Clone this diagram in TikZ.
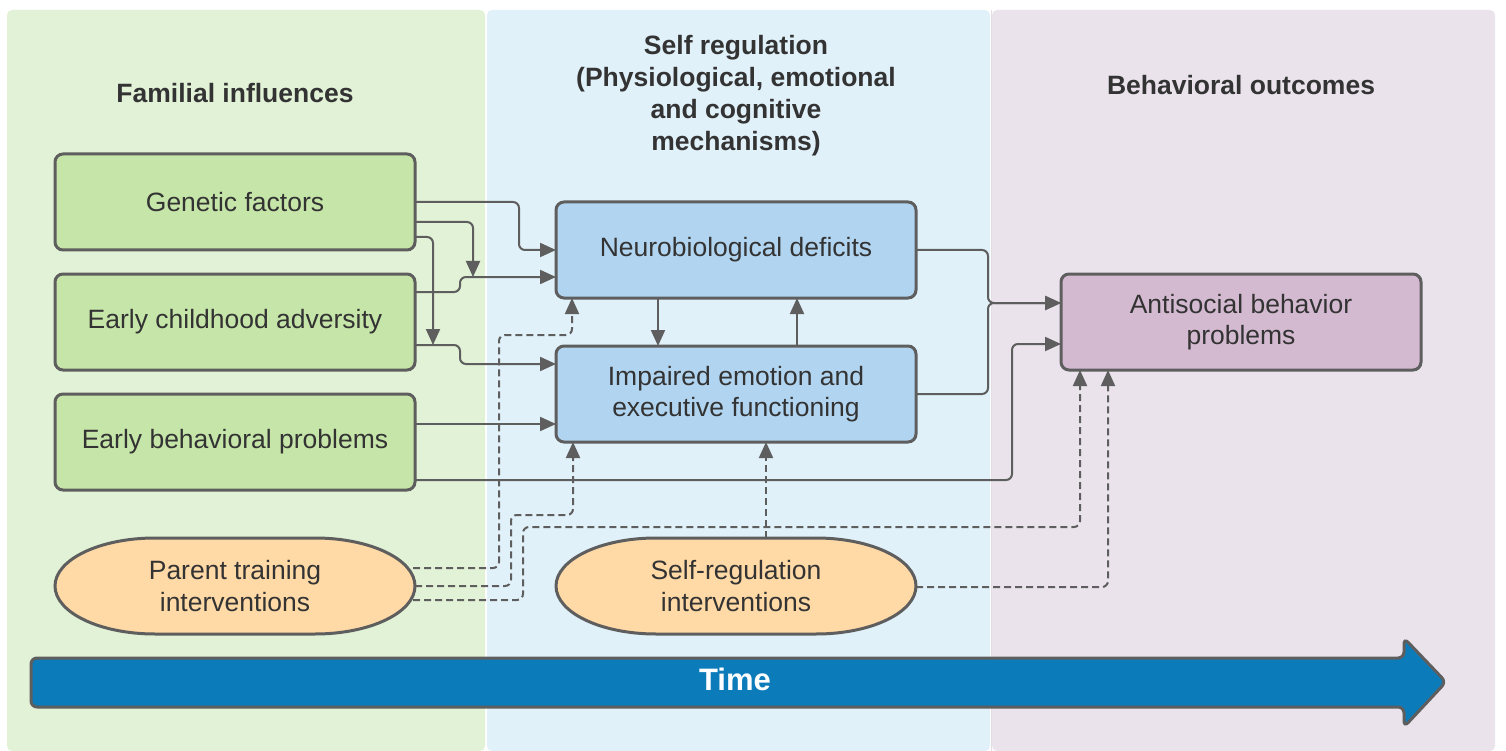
\documentclass[tikz,border=0pt]{standalone}
\usepackage{fontspec}
\setmainfont{Liberation Sans}
\usetikzlibrary{arrows.meta,calc}
\definecolor{pgreen}{HTML}{E2F2D7}
\definecolor{pblue}{HTML}{E1F1FA}
\definecolor{ppurple}{HTML}{EAE3EC}
\definecolor{bgreen}{HTML}{C6E6A9}
\definecolor{bblue}{HTML}{B1D5F0}
\definecolor{bpurple}{HTML}{D4BAD1}
\definecolor{borange}{HTML}{FFD9A6}
\definecolor{timeblue}{HTML}{0C7BBA}
\definecolor{stroke}{HTML}{5E5E5E}
\definecolor{txt}{HTML}{333333}
\begin{document}
\begin{tikzpicture}[x=1pt,y=1pt,
  txtfont/.style={font=\fontsize{26.5}{31.5}\selectfont, text=txt},
  boxnode/.style={txtfont, draw=stroke, line width=3pt, rounded corners=8pt,
    minimum width=360pt, minimum height=96pt, align=center, outer sep=0pt, inner sep=0pt},
  pillnode/.style={txtfont, minimum width=360pt, minimum height=96pt, align=center, outer sep=0pt, inner sep=0pt},
  pillshape/.style={draw=stroke, line width=3pt, fill=borange},
  title/.style={font=\fontsize{26.5}{32}\selectfont\bfseries, text=txt, align=center},
  conn/.style={draw=stroke, line width=2pt, rounded corners=6pt, -{Triangle[length=16pt,width=14pt]}},
  dconn/.style={conn, dash pattern=on 7pt off 4pt},
]
\useasboundingbox (0,0) rectangle (1506,-751);
% panels
\fill[pgreen, rounded corners=5pt] (7,-10) rectangle (485,-751);
\fill[pblue, rounded corners=5pt] (487,-10) rectangle (990,-751);
\fill[ppurple, rounded corners=5pt] (992,-10) rectangle (1495,-751);
\draw[color=ppurple!80!stroke!60, line width=1pt] (991,-10) -- (991,-751);
% titles
\node[title] (t1) at (235,-93) {Familial influences};
\node[title] (t2) at (736,-96) {Self regulation\\(Physiological, emotional\\and cognitive\\mechanisms)};
\node[title] (t3) at (1241,-85) {Behavioral outcomes};
% boxes
\node[boxnode, fill=bgreen] (gen) at (235,-202) {Genetic factors};
\node[boxnode, fill=bgreen] (eca) at (235,-322) {Early childhood adversity};
\node[boxnode, fill=bgreen] (ebp) at (235,-442) {Early behavioral problems};
\node[boxnode, fill=bblue] (neu) at (736,-250) {Neurobiological deficits};
\node[boxnode, fill=bblue] (imp) at (736,-394) {Impaired emotion and\\executive functioning};
\node[boxnode, fill=bpurple] (anti) at (1241,-322) {Antisocial behavior\\problems};
% pill shapes
\foreach \cx in {235,736}{
  \begin{scope}[shift={(\cx,-586)}]
  \draw[pillshape] (-180,0) arc[start angle=180,end angle=90,x radius=100pt,y radius=48pt]
    -- (80,48) arc[start angle=90,end angle=0,x radius=100pt,y radius=48pt]
    arc[start angle=0,end angle=-90,x radius=100pt,y radius=48pt]
    -- (-80,-48) arc[start angle=-90,end angle=-180,x radius=100pt,y radius=48pt] -- cycle;
  \end{scope}
}
\node[pillnode] (pt) at (235,-586) {Parent training\\interventions};
\node[pillnode] (sr) at (736,-586) {Self-regulation\\interventions};
% junction coordinates
\coordinate (j1) at (473,-277);
\coordinate (j2) at (433,-345);
% solid connectors
\draw[conn] (gen.east) -- (519,-202) |- (neu.west);
\draw[conn] ([yshift=-20pt]gen.east) -| (j1);
\draw[conn] ([yshift=-35pt]gen.east) -| (j2);
\draw[conn] ([yshift=30pt]eca.east) -- (460,-292) |- ([yshift=-27pt]neu.west);
\draw[conn] ([yshift=-23pt]eca.east) -- (460,-345) |- ([yshift=30pt]imp.west);
\draw[conn] ([yshift=18pt]ebp.east) -- ([yshift=-30pt]imp.west);
\draw[conn] ([yshift=-38pt]ebp.east) -- (1012,-480) |- ([yshift=-22pt]anti.west);
\draw[conn] (neu.east) -- (988,-250) |- ([yshift=19pt]anti.west);
\draw[conn] (imp.east) -- (988,-394) |- ([yshift=19pt]anti.west);
\draw[conn] ([xshift=-78pt]neu.south) -- ([xshift=-78pt]imp.north);
\draw[conn] ([xshift=61pt]imp.north) -- ([xshift=61pt]neu.south);
% dashed connectors
\draw[dconn] ([xshift=-2pt,yshift=18pt]pt.east) -| (499,-335) -| ([xshift=-164pt]neu.south);
\draw[dconn] (pt.east) -| (511,-515) -| ([xshift=-163pt]imp.south);
\draw[dconn] ([xshift=-2pt,yshift=-14pt]pt.east) -| (523,-527) -| ([xshift=-161pt]anti.south);
\draw[dconn] ([xshift=30pt]sr.north) -- ([xshift=30pt]imp.south);
\draw[dconn] ([yshift=-1pt]sr.east) -| ([xshift=-133pt]anti.south);
% time arrow
\draw[draw=stroke, line width=3pt, fill=timeblue, rounded corners=6pt]
  (31,-658) -- (1404,-658) -- (1404,-638) -- (1446,-682) -- (1404,-727) -- (1404,-707) -- (31,-707) -- cycle;
\node[font=\fontsize{31}{36}\selectfont\bfseries, text=white] (time) at (735,-679) {Time};
\end{tikzpicture}
\end{document}
